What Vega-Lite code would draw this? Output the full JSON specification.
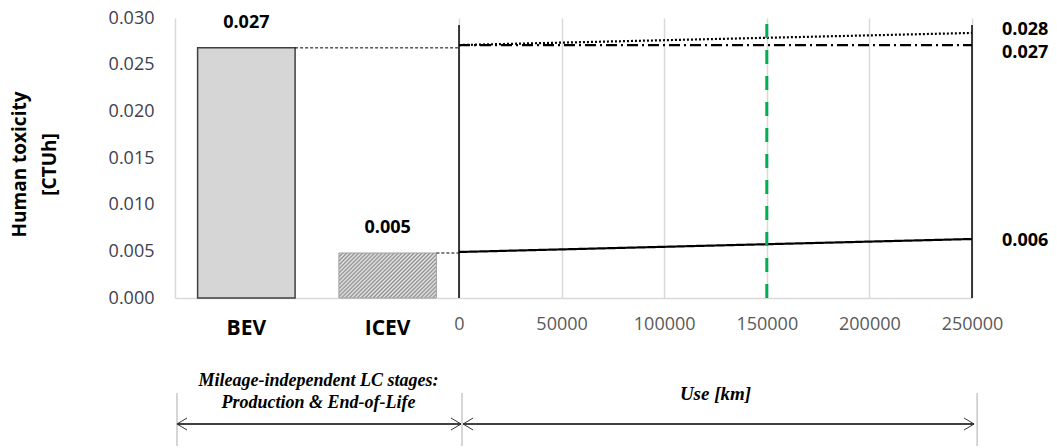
{
  "$schema": "https://vega.github.io/schema/vega-lite/v6.json",
  "padding": {"left": 10, "top": 9, "right": 5, "bottom": 0},
  "config": {"view": {"stroke": null}, "font": "Open Sans", "axis": {"labelFont": "Open Sans", "titleFont": "Open Sans"}},
  "bounds": "flush",
  "columns": 2,
  "spacing": {"row": 70, "column": 0},
  "concat": [
    {
      "width": 284,
      "height": 280,
      "data": {"values": [
        {"vehicle": "BEV", "value": 0.0268, "label": "0.027"},
        {"vehicle": "ICEV", "value": 0.00482, "label": "0.005"}
      ]},
      "encoding": {
        "x": {"field": "vehicle", "type": "nominal", "sort": ["BEV", "ICEV"],
          "scale": {"paddingInner": 0.31, "paddingOuter": 0.16},
          "axis": {"title": null, "labelAngle": 0, "labelFontSize": 21, "labelFontWeight": "bold", "labelColor": "black", "ticks": false, "domainColor": "#d9d9d9", "domainWidth": 1.5, "labelPadding": 19}},
        "y": {"field": "value", "type": "quantitative",
          "scale": {"domain": [0, 0.03], "nice": false},
          "axis": {"values": [0, 0.005, 0.01, 0.015, 0.02, 0.025, 0.03], "format": ".3f", "labelFontSize": 18, "labelColor": "#404050", "labelPadding": 21, "ticks": false, "grid": false, "domainColor": "#d9d9d9", "domainWidth": 1.5, "title": ["Human toxicity", "[CTUh]"], "titleFontSize": 19, "titleFontWeight": "bold", "titleColor": "black", "titlePadding": 49, "titleLineHeight": 30, "titleY": 146}}
      },
      "layer": [
        {"transform": [{"filter": "datum.vehicle === 'BEV'"}],
         "mark": {"type": "bar", "fill": "#d6d6d6", "stroke": "#404040", "strokeWidth": 1.5}},
        {"transform": [{"filter": "datum.vehicle === 'ICEV'"}],
         "mark": {"type": "bar", "stroke": "#a0a0a0", "strokeWidth": 1,
           "fill": {"gradient": "linear", "x1": 0, "y1": 0, "x2": 1.205, "y2": 0.556, "stops": [
             {"offset": 0, "color": "#8c8c8c"}, {"offset": 0.0139, "color": "#ececec"}, {"offset": 0.0278, "color": "#8c8c8c"}, {"offset": 0.0417, "color": "#ececec"},
             {"offset": 0.0556, "color": "#8c8c8c"}, {"offset": 0.0694, "color": "#ececec"}, {"offset": 0.0833, "color": "#8c8c8c"}, {"offset": 0.0972, "color": "#ececec"},
             {"offset": 0.1111, "color": "#8c8c8c"}, {"offset": 0.125, "color": "#ececec"}, {"offset": 0.1389, "color": "#8c8c8c"}, {"offset": 0.1528, "color": "#ececec"},
             {"offset": 0.1667, "color": "#8c8c8c"}, {"offset": 0.1806, "color": "#ececec"}, {"offset": 0.1944, "color": "#8c8c8c"}, {"offset": 0.2083, "color": "#ececec"},
             {"offset": 0.2222, "color": "#8c8c8c"}, {"offset": 0.2361, "color": "#ececec"}, {"offset": 0.25, "color": "#8c8c8c"}, {"offset": 0.2639, "color": "#ececec"},
             {"offset": 0.2778, "color": "#8c8c8c"}, {"offset": 0.2917, "color": "#ececec"}, {"offset": 0.3056, "color": "#8c8c8c"}, {"offset": 0.3194, "color": "#ececec"},
             {"offset": 0.3333, "color": "#8c8c8c"}, {"offset": 0.3472, "color": "#ececec"}, {"offset": 0.3611, "color": "#8c8c8c"}, {"offset": 0.375, "color": "#ececec"},
             {"offset": 0.3889, "color": "#8c8c8c"}, {"offset": 0.4028, "color": "#ececec"}, {"offset": 0.4167, "color": "#8c8c8c"}, {"offset": 0.4306, "color": "#ececec"},
             {"offset": 0.4444, "color": "#8c8c8c"}, {"offset": 0.4583, "color": "#ececec"}, {"offset": 0.4722, "color": "#8c8c8c"}, {"offset": 0.4861, "color": "#ececec"},
             {"offset": 0.5, "color": "#8c8c8c"}, {"offset": 0.5139, "color": "#ececec"}, {"offset": 0.5278, "color": "#8c8c8c"}, {"offset": 0.5417, "color": "#ececec"},
             {"offset": 0.5556, "color": "#8c8c8c"}, {"offset": 0.5694, "color": "#ececec"}, {"offset": 0.5833, "color": "#8c8c8c"}, {"offset": 0.5972, "color": "#ececec"},
             {"offset": 0.6111, "color": "#8c8c8c"}, {"offset": 0.625, "color": "#ececec"}, {"offset": 0.6389, "color": "#8c8c8c"}, {"offset": 0.6528, "color": "#ececec"},
             {"offset": 0.6667, "color": "#8c8c8c"}, {"offset": 0.6806, "color": "#ececec"}, {"offset": 0.6944, "color": "#8c8c8c"}, {"offset": 0.7083, "color": "#ececec"},
             {"offset": 0.7222, "color": "#8c8c8c"}, {"offset": 0.7361, "color": "#ececec"}, {"offset": 0.75, "color": "#8c8c8c"}, {"offset": 0.7639, "color": "#ececec"},
             {"offset": 0.7778, "color": "#8c8c8c"}, {"offset": 0.7917, "color": "#ececec"}, {"offset": 0.8056, "color": "#8c8c8c"}, {"offset": 0.8194, "color": "#ececec"},
             {"offset": 0.8333, "color": "#8c8c8c"}, {"offset": 0.8472, "color": "#ececec"}, {"offset": 0.8611, "color": "#8c8c8c"}, {"offset": 0.875, "color": "#ececec"},
             {"offset": 0.8889, "color": "#8c8c8c"}, {"offset": 0.9028, "color": "#ececec"}, {"offset": 0.9167, "color": "#8c8c8c"}, {"offset": 0.9306, "color": "#ececec"},
             {"offset": 0.9444, "color": "#8c8c8c"}, {"offset": 0.9583, "color": "#ececec"}, {"offset": 0.9722, "color": "#8c8c8c"}, {"offset": 0.9861, "color": "#ececec"},
             {"offset": 1, "color": "#8c8c8c"}
           ]}}},
        {"mark": {"type": "rule", "strokeDash": [3, 2], "color": "black", "strokeWidth": 1},
         "encoding": {"x": {"field": "vehicle", "type": "nominal", "sort": ["BEV", "ICEV"], "bandPosition": 1}, "x2": {"value": "width"}}},
        {"mark": {"type": "text", "fontWeight": "bold", "fontSize": 18, "baseline": "bottom", "dy": -16, "color": "black"},
         "encoding": {"text": {"field": "label"}}}
      ]
    },
    {
      "width": 513,
      "height": 280,
      "layer": [
        {"data": {"values": [{"km": 0}, {"km": 250000}]},
         "mark": {"type": "rule", "color": "black", "strokeWidth": 1.5},
         "encoding": {
           "x": {"field": "km", "type": "quantitative", "scale": {"domain": [0, 250000], "nice": false},
             "axis": {"values": [0, 50000, 100000, 150000, 200000, 250000], "format": "d", "title": null, "labelColor": "#595959", "labelFontSize": 18, "labelPadding": 17, "ticks": false, "domainColor": "#d9d9d9", "domainWidth": 1.5, "grid": true, "gridColor": "#d9d9d9", "gridWidth": 1.5, "labelFlush": false}},
           "y": {"datum": 0, "type": "quantitative", "scale": {"domain": [0, 0.03], "nice": false}, "axis": null},
           "y2": {"datum": 0.02925}
         }},
        {"data": {"values": [
           {"series": "dotted", "km": 0, "value": 0.0271},
           {"series": "dotted", "km": 250000, "value": 0.0284},
           {"series": "dashdot", "km": 0, "value": 0.0271},
           {"series": "dashdot", "km": 250000, "value": 0.0271},
           {"series": "solid", "km": 0, "value": 0.00493},
           {"series": "solid", "km": 250000, "value": 0.00632}
         ]},
         "mark": {"type": "line", "color": "black", "strokeWidth": 2.2},
         "encoding": {
           "x": {"field": "km", "type": "quantitative"},
           "y": {"field": "value", "type": "quantitative"},
           "detail": {"field": "series"},
           "strokeDash": {"field": "series", "type": "nominal", "scale": {"domain": ["dotted", "dashdot", "solid"], "range": [[2, 2], [11, 4, 2, 4], [1, 0]]}, "legend": null}
         }},
        {"data": {"values": [{"km": 150000}]},
         "mark": {"type": "rule", "color": "#00b050", "strokeWidth": 3, "strokeDash": [14, 12]},
         "encoding": {
           "x": {"field": "km", "type": "quantitative"},
           "y": {"datum": 0, "type": "quantitative"},
           "y2": {"datum": 0.0295}
         }},
        {"data": {"values": [
           {"label": "0.028", "value": 0.0287},
           {"label": "0.027", "value": 0.02625},
           {"label": "0.006", "value": 0.00611}
         ]},
         "mark": {"type": "text", "align": "left", "dx": 30, "fontWeight": "bold", "fontSize": 18, "color": "black"},
         "encoding": {
           "x": {"datum": 250000, "type": "quantitative"},
           "y": {"field": "value", "type": "quantitative"},
           "text": {"field": "label"}
         }}
      ]
    },
    {
      "width": 284,
      "height": 80,
      "layer": [
        {"data": {"values": [{"pos": 0.007}, {"pos": 1.0106}]},
         "mark": {"type": "rule", "color": "#c8c8c8", "strokeWidth": 1.5},
         "encoding": {
           "x": {"field": "pos", "type": "quantitative", "scale": {"domain": [0, 1], "nice": false, "zero": false}, "axis": null},
           "y": {"datum": 0.025, "type": "quantitative", "scale": {"domain": [0, 1], "nice": false}, "axis": null},
           "y2": {"datum": 0.6875}
         }},
        {"data": {"values": [{"from": 0.007, "to": 1.007}]},
         "mark": {"type": "rule", "color": "black", "strokeWidth": 1.5},
         "encoding": {
           "x": {"field": "from", "type": "quantitative"},
           "x2": {"field": "to"},
           "y": {"datum": 0.3, "type": "quantitative"}
         }},
        {"data": {"values": [{"tip": 0.007, "dir": "left"}, {"tip": 1.007, "dir": "right"}]},
         "mark": {"type": "point", "filled": false, "size": 100, "color": "#333333", "strokeWidth": 1, "opacity": 1},
         "encoding": {
           "x": {"field": "tip", "type": "quantitative"},
           "y": {"datum": 0.3, "type": "quantitative"},
           "shape": {"field": "dir", "type": "nominal", "scale": {"domain": ["left", "right"], "range": ["M2,-1.2L0,0L2,1.2", "M-2,-1.2L0,0L-2,1.2"]}, "legend": null}
         }},
        {"data": {"values": [
           {"text": "Mileage-independent LC stages:", "x": 0.505, "y": 0.8375},
           {"text": "Production & End-of-Life", "x": 0.505, "y": 0.5625}
         ]},
         "mark": {"type": "text", "font": "Liberation Serif", "fontStyle": "italic", "fontWeight": "bold", "fontSize": 18, "color": "black"},
         "encoding": {
           "x": {"field": "x", "type": "quantitative"},
           "y": {"field": "y", "type": "quantitative"},
           "text": {"field": "text"}
         }}
      ]
    },
    {
      "width": 513,
      "height": 80,
      "layer": [
        {"data": {"values": [{"km": 252500}]},
         "mark": {"type": "rule", "color": "#c8c8c8", "strokeWidth": 1.5},
         "encoding": {
           "x": {"field": "km", "type": "quantitative", "scale": {"domain": [0, 250000], "nice": false, "zero": false}, "axis": null},
           "y": {"datum": 0.025, "type": "quantitative", "scale": {"domain": [0, 1], "nice": false}, "axis": null},
           "y2": {"datum": 0.6875}
         }},
        {"data": {"values": [{"from": 2000, "to": 251000}]},
         "mark": {"type": "rule", "color": "black", "strokeWidth": 1.5},
         "encoding": {
           "x": {"field": "from", "type": "quantitative"},
           "x2": {"field": "to"},
           "y": {"datum": 0.3, "type": "quantitative"}
         }},
        {"data": {"values": [{"tip": 2000, "dir": "left"}, {"tip": 251000, "dir": "right"}]},
         "mark": {"type": "point", "filled": false, "size": 100, "color": "#333333", "strokeWidth": 1, "opacity": 1},
         "encoding": {
           "x": {"field": "tip", "type": "quantitative"},
           "y": {"datum": 0.3, "type": "quantitative"},
           "shape": {"field": "dir", "type": "nominal", "scale": {"domain": ["left", "right"], "range": ["M2,-1.2L0,0L2,1.2", "M-2,-1.2L0,0L-2,1.2"]}, "legend": null}
         }},
        {"data": {"values": [{"text": "Use [km]", "x": 125000, "y": 0.675}]},
         "mark": {"type": "text", "font": "Liberation Serif", "fontStyle": "italic", "fontWeight": "bold", "fontSize": 19, "color": "black"},
         "encoding": {
           "x": {"field": "x", "type": "quantitative"},
           "y": {"field": "y", "type": "quantitative"},
           "text": {"field": "text"}
         }}
      ]
    }
  ]
}
